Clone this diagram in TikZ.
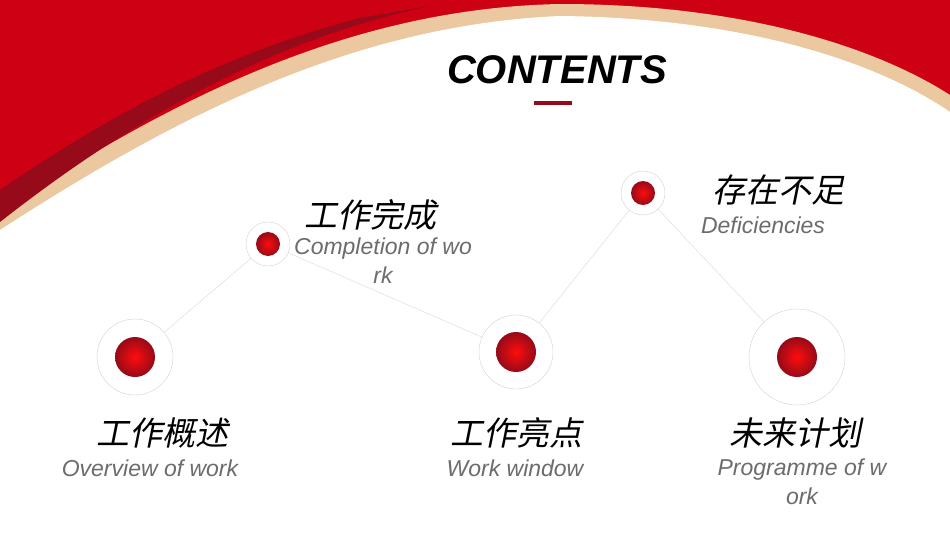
\documentclass[tikz,border=0pt]{standalone}
\usepackage{fontspec}
\setmainfont{Liberation Sans}
\newfontfamily\cjk[FakeSlant=0.2]{Noto Sans CJK SC}
\usetikzlibrary{positioning}
\definecolor{deepred}{RGB}{205,0,20}
\definecolor{darkred}{RGB}{150,10,25}
\definecolor{gold}{RGB}{235,200,160}
\tikzset{
    ring/.style={circle, draw=gray!35, fill=white, thin},
    dot/.style={circle, inner color=red!95!white, outer color=darkred, draw=none},
    title/.style={font=\cjk\fontsize{33}{34}\selectfont, text=black},
    sub/.style={font=\itshape\fontsize{23}{29}\selectfont, text=gray!85!black, align=center},
    link/.style={draw=gray!30, thin},
}
\begin{document}
\begin{tikzpicture}[x=1pt,y=-1pt]
    \useasboundingbox (0,0) rectangle (950,535);
    % top band
    \fill[deepred] (0,0) rectangle (950,240);
    \fill[gold] (0,212) .. controls (170,100) and (350,8) .. (560,4) .. controls (750,4) and (880,50) .. (950,95)
        -- (950,118) .. controls (880,70) and (750,24) .. (560,20) .. controls (350,28) and (170,125) .. (0,235) -- cycle;
    \fill[darkred] (0,190) .. controls (110,115) and (220,55) .. (360,18) -- (430,6) .. controls (270,40) and (130,120) .. (0,222) -- cycle;
    \fill[white] (0,230) .. controls (170,120) and (350,25) .. (560,16) .. controls (750,18) and (880,64) .. (950,112) -- (950,535) -- (0,535) -- cycle;
    \node[font=\bfseries\itshape\fontsize{40}{42}\selectfont] (head) at (557,70) {CONTENTS};
    \fill[darkred] (534,101) rectangle (572,105);
    % rings
    \node[ring, minimum size=76pt] (A) at (135,357) {};
    \node[ring, minimum size=44pt] (B) at (268,244) {};
    \node[ring, minimum size=74pt] (C) at (516,352) {};
    \node[ring, minimum size=44pt] (D) at (643,193) {};
    \node[ring, minimum size=96pt] (E) at (797,357) {};
    \path[link] (A) -- (B) (B) -- (C) (C) -- (D) (D) -- (E);
    \foreach \n/\s in {A/40,B/24,C/40,D/24,E/40}
        \node[dot, minimum size=\s pt] at (\n) {};
    % labels
    \node[title] (tA) at (162,433) {工作概述};
    \node[sub] (sA) at (150,468) {Overview of work};
    \node[title] (tB) at (370,215) {工作完成};
    \node[sub] (sB) at (383,261) {Completion of wo\\rk};
    \node[title] (tC) at (516,433) {工作亮点};
    \node[sub] (sC) at (515,468) {Work window};
    \node[title] (tD) at (778,190) {存在不足};
    \node[sub] (sD) at (763,225) {Deficiencies};
    \node[title] (tE) at (795,433) {未来计划};
    \node[sub] (sE) at (802,482) {Programme of w\\ork};
\end{tikzpicture}
\end{document}
